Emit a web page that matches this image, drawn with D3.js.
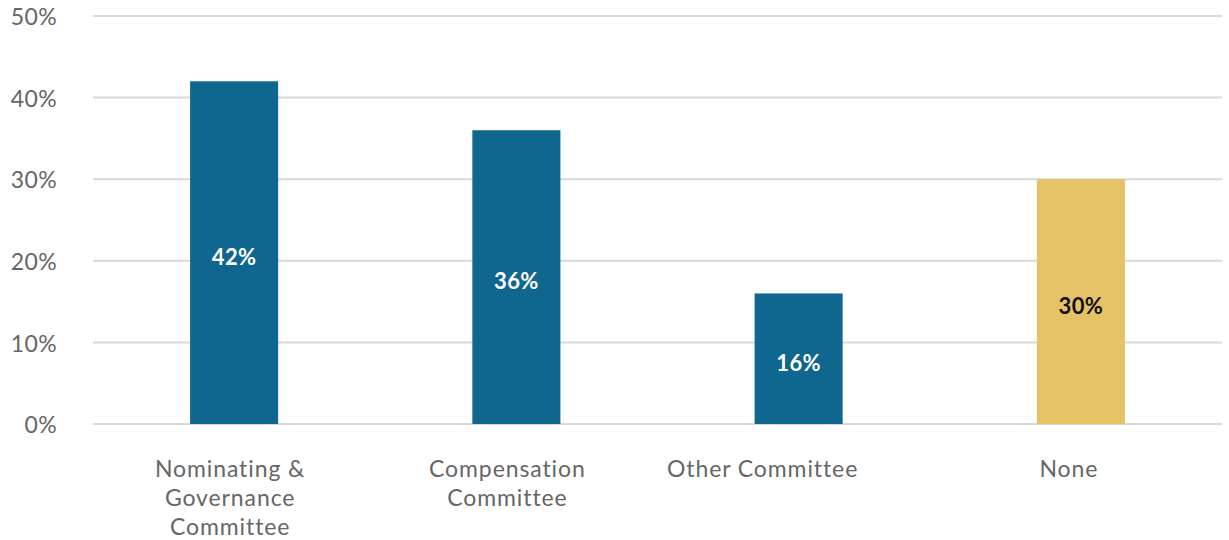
<!DOCTYPE html>
<html lang="en">
<head>
  <meta charset="UTF-8">
  <title>committee chart</title>
  <script src="https://d3js.org/d3.v7.min.js"></script>
  <style>
    body { margin: 0; background: #fff; }
    text { font-family: Lato, "Open Sans", sans-serif; }
  </style>
</head>
<body>
  <svg id="chart" width="1229" height="540"></svg>
  <script>
    // data
    const categories = [["Nominating &", "Governance", "Committee"], ["Compensation", "Committee"], ["Other Committee"], ["None"]];
    const values = [42, 36, 16, 30];
    const barColors = ["#0f668e", "#0f668e", "#0f668e", "#e6c267"];
    const labelColors = ["#ffffff", "#ffffff", "#ffffff", "#111111"];
    const yTicks = [0, 10, 20, 30, 40, 50];

    // layout: the source nudges category labels left of the bar centre
    const labelShift = [-4, -9, -36, -12];

    const svg = d3.select("#chart");
    const plotLeft = 93, plotRight = 1222, plotTop = 16, plotBottom = 424;

    const x = d3.scaleBand().domain(d3.range(values.length)).range([plotLeft, plotRight]).paddingInner(0.688).paddingOuter(0.344);
    const y = d3.scaleLinear().domain([0, 50]).range([plotBottom, plotTop]);

    // gridlines
    svg.append("g").selectAll("line").data(yTicks).join("line")
      .attr("x1", plotLeft).attr("x2", plotRight)
      .attr("y1", d => y(d)).attr("y2", d => y(d))
      .attr("stroke", "#d9d9d9").attr("stroke-width", 2);

    // y tick labels
    svg.append("g").selectAll("text").data(yTicks).join("text")
      .attr("x", 57).attr("y", d => y(d) + 1).attr("dy", "0.36em")
      .attr("text-anchor", "end").attr("font-size", 23).attr("letter-spacing", 0.4).attr("fill", "#666")
      .text(d => d + "%");

    // bars
    svg.append("g").selectAll("rect").data(values).join("rect")
      .attr("x", (d, i) => x(i)).attr("width", x.bandwidth())
      .attr("y", d => y(d)).attr("height", d => y(0) - y(d))
      .attr("fill", (d, i) => barColors[i]);

    // value labels
    svg.append("g").selectAll("text").data(values).join("text")
      .attr("x", (d, i) => x(i) + x.bandwidth() / 2)
      .attr("y", d => (y(d) + y(0)) / 2 + 4).attr("dy", "0.36em")
      .attr("text-anchor", "middle").attr("font-size", 22).attr("font-weight", "bold").attr("letter-spacing", 0.4)
      .attr("fill", (d, i) => labelColors[i])
      .text(d => d + "%");

    // category labels
    const cat = svg.append("g").selectAll("text").data(categories).join("text")
      .attr("text-anchor", "middle").attr("font-size", 23).attr("letter-spacing", 0.9).attr("fill", "#666")
      .attr("transform", (d, i) => `translate(${x(i) + x.bandwidth() / 2 + labelShift[i]},477)`);
    cat.selectAll("tspan").data(d => d).join("tspan")
      .attr("x", 0).attr("y", (d, j) => j * 29)
      .text(d => d);
  </script>
</body>
</html>
